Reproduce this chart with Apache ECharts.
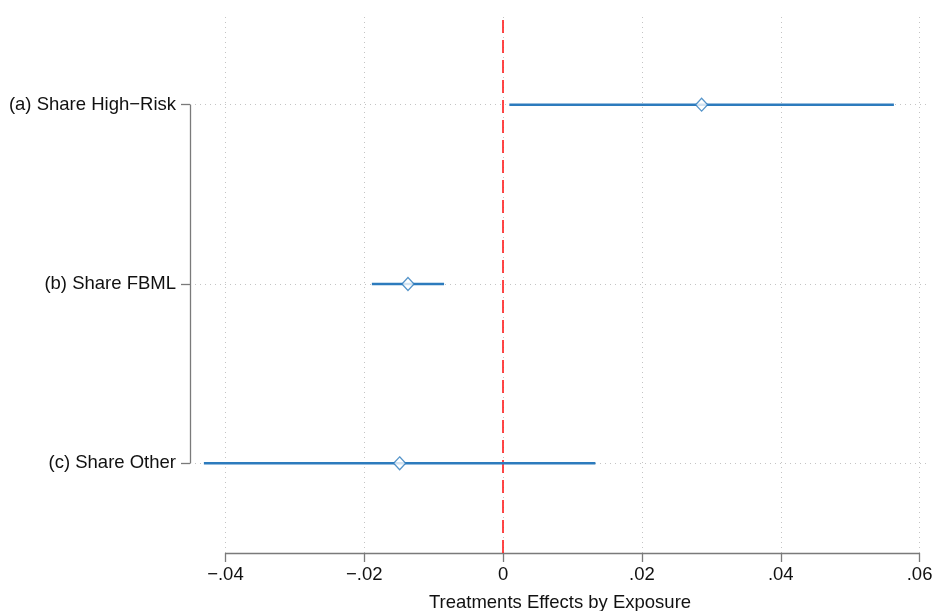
<!DOCTYPE html>
<html>
<head>
<meta charset="utf-8">
<script src="https://cdn.jsdelivr.net/npm/echarts@6/dist/echarts.min.js"></script>
<style>html,body{margin:0;padding:0;background:#fff}#c{width:934px;height:611px}</style>
</head>
<body>
<div id="c"></div>
<script>
// Data
const categories = ['(a) Share High\u2212Risk', '(b) Share FBML', '(c) Share Other'];
const catPos = [3, 2, 1];
const estimates = [0.0286, -0.0137, -0.0149];
const ciLow = [0.0009, -0.0189, -0.0431];
const ciHigh = [0.0563, -0.0085, 0.0133];
const xTicks = [-0.04, -0.02, 0, 0.02, 0.04, 0.06];
const xTickLabels = ['\u2212.04', '\u2212.02', '0', '.02', '.04', '.06'];
const xTitle = 'Treatments Effects by Exposure';
const xMin = -0.0451, xMax = 0.0615;
const yMin = 0.5, yMax = 3.5;

const FONT = 'Liberation Sans, Arial, Helvetica, sans-serif';
const FS = 18.5;
const blue = '#2c7bbd';
const axisGray = '#7a7a7a';
const gridStyle = {color: '#c4c4c4', width: 1, type: [1, 4]};

const ciSeries = categories.map((c, i) => ({
  type: 'line',
  data: [[ciLow[i], catPos[i]], [ciHigh[i], catPos[i]]],
  symbol: 'none',
  lineStyle: {color: blue, width: 2.5},
  z: 5,
  silent: true
}));

const option = {
  animation: false,
  backgroundColor: '#fff',
  grid: {left: 190, right: 4, top: 15, bottom: 58, containLabel: false, outerBoundsMode: 'none'},
  xAxis: {
    type: 'value', min: xMin, max: xMax,
    axisLine: {show: false, onZero: false},
    splitLine: {show: false},
    axisTick: {show: true, length: 9, customValues: xTicks, lineStyle: {color: axisGray, width: 1.3}},
    axisLabel: {
      customValues: xTicks, margin: 12,
      fontSize: FS, fontFamily: FONT, color: '#111',
      formatter: v => { const k = xTicks.findIndex(t => Math.abs(t - v) < 1e-9); return k >= 0 ? xTickLabels[k] : ''; }
    },
    name: xTitle, nameLocation: 'middle', nameGap: 40,
    nameTextStyle: {fontSize: FS, fontFamily: FONT, color: '#111'}
  },
  yAxis: {
    type: 'value', min: yMin, max: yMax,
    axisLine: {show: false, onZero: false},
    splitLine: {show: false},
    axisTick: {show: true, length: 9, customValues: catPos, lineStyle: {color: axisGray, width: 1.3}},
    axisLabel: {
      customValues: catPos, margin: 14,
      fontSize: FS, fontFamily: FONT, color: '#111',
      formatter: v => { const k = catPos.indexOf(Math.round(v)); return k >= 0 && Math.abs(v - catPos[k]) < 1e-9 ? categories[k] : ''; }
    }
  },
  series: [
    {
      type: 'line', data: [], silent: true,
      markLine: {
        silent: true, symbol: 'none', animation: false,
        label: {show: false},
        data: [
          ...xTicks.map(t => ({xAxis: t, lineStyle: gridStyle})),
          ...catPos.map(p => ({yAxis: p, lineStyle: gridStyle})),
          [{coord: [xTicks[0], yMin], lineStyle: {color: axisGray, width: 1.3, type: 'solid'}},
           {coord: [xTicks[xTicks.length - 1], yMin]}],
          [{coord: [xMin, catPos[catPos.length - 1]], lineStyle: {color: axisGray, width: 1.3, type: 'solid'}},
           {coord: [xMin, catPos[0]]}]
        ]
      },
      z: 1
    },
    {
      type: 'line', data: [], silent: true,
      markLine: {
        silent: true, symbol: 'none', animation: false,
        label: {show: false},
        data: [{xAxis: 0, lineStyle: {color: '#ff1a1a', width: 1.6, type: [13, 7]}}]
      },
      z: 3
    },
    ...ciSeries,
    {
      type: 'scatter',
      data: estimates.map((e, i) => [e, catPos[i]]),
      symbol: 'diamond', symbolSize: [12, 13],
      itemStyle: {color: '#fff', borderColor: blue, borderWidth: 1.3},
      z: 10, silent: true
    }
  ]
};
echarts.init(document.getElementById('c'), null, {renderer: 'canvas'}).setOption(option);
</script>
</body>
</html>
